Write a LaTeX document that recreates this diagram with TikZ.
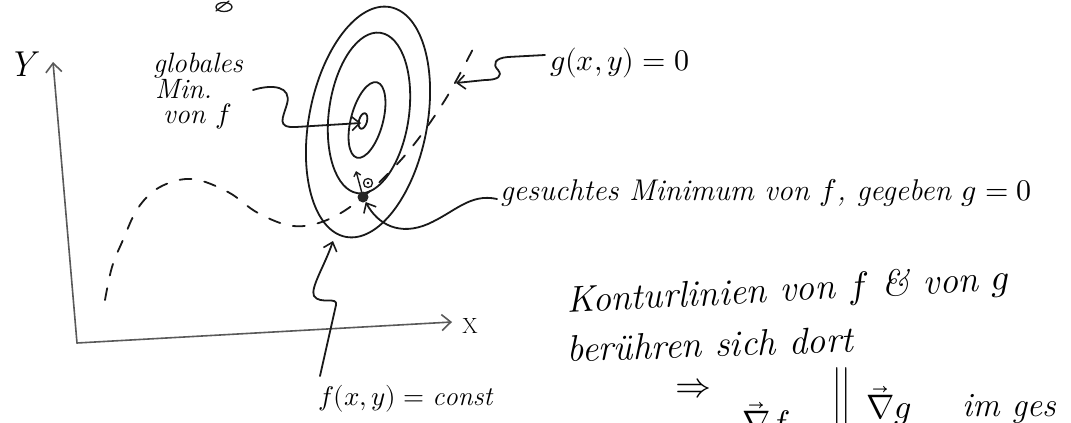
\documentclass[tikz,border=0pt]{standalone}
\usepackage{unicode-math}
\usepackage{graphicx}
\usetikzlibrary{arrows.meta}
\begin{document}
\begin{tikzpicture}[x=1pt,y=-1pt,
  pen/.style={draw=black!90,line width=1.8pt,line cap=round,line join=round},
  axis/.style={draw=black!65,line width=1.6pt,line cap=round,-{Straight Barb[length=9pt,width=16pt,line width=1.6pt]}},
  arr/.style={pen,-{Straight Barb[length=8pt,width=14pt,line width=1.6pt]}},
  gdash/.style={pen,dash pattern=on 12pt off 13pt},
  hw/.style={inner sep=0pt,anchor=base west,font=\fontsize{#1}{#1}\selectfont\itshape},
  hw/.default=30]
\useasboundingbox (0,0) rectangle (1071,423);
\clip (0,0) rectangle (1071,423);
\fill[white] (0,0) rectangle (1071,423);

% top mark (cut off)
\draw[pen,line width=1.3pt] (224,7) ellipse [x radius=8,y radius=4.5];
\draw[pen,line width=1.3pt] (216,11) -- (229,1);

% axes
\coordinate (O) at (77,343);
\coordinate (Yt) at (53,62);
\coordinate (Xt) at (452,322);
\draw[axis] (O) -- (Yt);
\draw[axis] (O) -- (Xt);
\node[font=\fontsize{36}{36}\selectfont\itshape,inner sep=0pt] (ylab) at (22,64) {Y};
\node[font=\fontsize{22}{22}\selectfont,inner sep=0pt] (xlab) at (470,326) {X};

% constraint curve g(x,y)=0
\draw[gdash] plot[smooth,tension=0.6] coordinates {(105,300) (112,267) (123,240) (138,208) (160,187) (192,179) (228,192) (258,213) (293,226) (327,220) (363,197) (407,153) (445,100) (475,45)};

% contour lines of f
\draw[pen] (368,122) ellipse [x radius=59,y radius=117,rotate=-11];
\draw[pen] (369,113) ellipse [x radius=40,y radius=81,rotate=-8];
\draw[pen] (367,120) ellipse [x radius=16,y radius=39,rotate=-15];
\draw[pen] (363,121) ellipse [x radius=4,y radius=8,rotate=-15];
\coordinate (gmin) at (361,123);

% sought minimum
\node[circle,fill=black!85,inner sep=0pt,minimum size=11pt] (pt) at (363,197) {};
\coordinate (gradtip) at (356,171);
\draw[pen,line width=1.4pt,-{Straight Barb[length=4pt,width=7pt]}] (pt) -- (gradtip);
\node[circle,draw=black!90,line width=1.3pt,inner sep=0pt,minimum size=9pt] (ra) at (368,183) {};
\fill (ra.center) circle [radius=1.3];

% labels
\node[hw=28] (gl1) at (153,72) {globales};
\node[hw=28] (gl2) at (155,98) {Min.};
\node[hw=28] (gl3) at (163,123) {von $f$};
\node[hw=30] (glab) at (550,70) {$g(x,y)=0$};
\node[hw=30] (gest) at (500,200) {gesuchtes Minimum von $f$, gegeben $g=0$};
\node[hw=37,rotate=3] (kont) at (567,313) {Konturlinien von $f$ \& von $g$};
\node[hw=37,rotate=2] (ber) at (567,362) {berühren sich dort};
\node[font=\fontsize{36}{36}\selectfont,inner sep=0pt] (impl) at (693,388) {$\Rightarrow$};
\node[hw=34] (gf) at (742,434) {$\vec\nabla f$};
\node[inner sep=0pt,anchor=base west,font=\fontsize{34}{34}\selectfont\upshape] (par) at (832,418) {\scalebox{1}[2]{||}};
\node[hw=34] (gg) at (866,418) {$\vec\nabla g$};
\node[hw=34] (imges) at (962,416) {im ges};
\node[hw=27] (flab) at (318,405) {$f(x,y)=\mathit{const}$};

% pointers
\coordinate (gs) at (253,90);
\draw[arr] (gs) .. controls (272,84) and (292,86) .. (287,104) .. controls (283,118) and (276,128) .. (296,127) -- (gmin);
\coordinate (gp) at (545,55);
\draw[arr] (gp) -- (508,57) .. controls (495,58) and (492,64) .. (498,70) .. controls (503,76) and (498,80) .. (485,80) -- (456,83);
\coordinate (gsp) at (497,199);
\draw[arr] (gsp) .. controls (470,193) and (455,212) .. (428,224) .. controls (400,236) and (378,225) .. (pt);
\coordinate (fp) at (320,376);
\draw[arr] (fp) -- (336,305) .. controls (338,296) and (320,305) .. (314,296) .. controls (310,288) and (325,265) .. (333,241);
\end{tikzpicture}
\end{document}
